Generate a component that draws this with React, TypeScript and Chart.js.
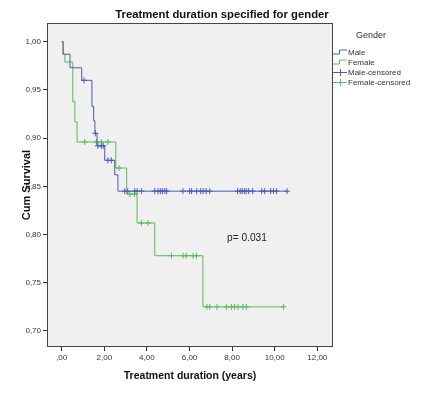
import React, { useEffect, useRef } from "react";
import { Chart, registerables } from "chart.js";

Chart.register(...registerables);

// Kaplan-Meier step data (time in years, cumulative survival after event)
const maleEventTimes = [0.06, 0.39, 0.94, 1.42, 1.50, 1.56, 1.66, 2.02, 2.49, 2.64];
const maleSurvival = [0.987, 0.973, 0.960, 0.933, 0.918, 0.905, 0.892, 0.877, 0.862, 0.845];
const maleCensored = [1.05, 1.58, 1.70, 1.86, 1.95, 2.17, 2.33, 2.96, 3.10, 3.43, 3.54, 3.74, 4.37, 4.52, 4.63, 4.73, 4.84, 4.93, 5.69, 6.01, 6.10, 6.34, 6.53, 6.64, 6.78, 6.95, 8.26, 8.38, 8.47, 8.57, 8.66, 8.78, 8.97, 9.39, 9.53, 9.81, 9.95, 10.09, 10.58];

const femaleEventTimes = [0.08, 0.15, 0.52, 0.62, 0.72, 2.54, 3.05, 3.54, 4.37, 6.63];
const femaleSurvival = [0.987, 0.979, 0.938, 0.917, 0.896, 0.869, 0.842, 0.812, 0.778, 0.725];
const femaleCensored = [1.08, 1.63, 1.86, 2.17, 2.69, 3.20, 3.42, 3.74, 4.05, 5.15, 5.70, 5.85, 6.17, 6.33, 6.82, 6.95, 7.29, 7.73, 7.97, 8.12, 8.28, 8.51, 8.67, 10.42];

const xTicks = [0, 2, 4, 6, 8, 10, 12];
const yTicks = [0.7, 0.75, 0.8, 0.85, 0.9, 0.95, 1.0];

const titleText = "Treatment duration specified for gender";
const xTitle = "Treatment duration (years)";
const yTitle = "Cum Survival";
const legendTitle = "Gender";
const legendLabels = ["Male", "Female", "Male-censored", "Female-censored"];
const pText = "p= 0.031";

const BLUE = "#4b5bb3";
const GREEN = "#5cba5c";
const FONT = '"Liberation Sans", Arial, sans-serif';

function levelAt(times: number[], surv: number[], t: number): number {
  let s = 1;
  for (let i = 0; i < times.length; i++) if (times[i] <= t) s = surv[i];
  return s;
}

function stepPoints(times: number[], surv: number[], end: number) {
  const pts = [{ x: 0, y: 1 }];
  times.forEach((t, i) => pts.push({ x: t, y: surv[i] }));
  pts.push({ x: end, y: surv[surv.length - 1] });
  return pts;
}

const fmt = (v: number) => {
  const s = v.toFixed(2).replace(".", ",");
  return s.startsWith("0,") && v === 0 ? ",00" : s;
};

const decorPlugin = {
  id: "decor",
  beforeDraw(chart: any) {
    const { ctx, chartArea: a } = chart;
    ctx.save();
    ctx.fillStyle = "#ffffff";
    ctx.fillRect(0, 0, chart.width, chart.height);
    ctx.fillStyle = "#f0f0f0";
    ctx.fillRect(a.left, a.top, a.right - a.left, a.bottom - a.top);
    ctx.restore();
  },
  afterDraw(chart: any) {
    const { ctx, chartArea: a } = chart;
    ctx.save();
    ctx.strokeStyle = "#444";
    ctx.lineWidth = 1;
    ctx.strokeRect(Math.round(a.left) - 0.5, Math.round(a.top) - 0.5, Math.round(a.right - a.left) + 1, Math.round(a.bottom - a.top) + 1);

    ctx.fillStyle = "#111";
    ctx.textBaseline = "middle";
    // chart title
    ctx.font = `bold 11.3px ${FONT}`;
    ctx.textAlign = "center";
    ctx.fillText(titleText, 222, 15);
    // x title
    ctx.font = `bold 10.5px ${FONT}`;
    ctx.fillText(xTitle, (a.left + a.right) / 2, 376);
    // y title
    ctx.save();
    ctx.translate(27, (a.top + a.bottom) / 2);
    ctx.rotate(-Math.PI / 2);
    ctx.font = `bold 11px ${FONT}`;
    ctx.fillText(yTitle, 0, 0);
    ctx.restore();

    // p-value
    ctx.fillStyle = "#222";
    ctx.font = `10.2px ${FONT}`;
    ctx.textAlign = "left";
    ctx.fillText(pText, 227, 238);

    // legend
    ctx.fillStyle = "#333";
    ctx.font = `9px ${FONT}`;
    ctx.textAlign = "center";
    ctx.fillText(legendTitle, 371, 36);
    ctx.textAlign = "left";
    ctx.font = `8px ${FONT}`;
    const ys = [52.5, 62.5, 72.5, 82.5];
    const cols = [BLUE, GREEN, BLUE, GREEN];
    legendLabels.forEach((lab, i) => {
      const y = ys[i];
      ctx.strokeStyle = cols[i];
      ctx.lineWidth = 1;
      ctx.beginPath();
      if (i < 2) {
        ctx.moveTo(333, y + 1.5);
        ctx.lineTo(339.5, y + 1.5);
        ctx.lineTo(339.5, y - 2.5);
        ctx.lineTo(347, y - 2.5);
      } else {
        ctx.moveTo(333, y);
        ctx.lineTo(347, y);
        ctx.moveTo(340.5, y - 3.5);
        ctx.lineTo(340.5, y + 3.5);
      }
      ctx.stroke();
      ctx.fillStyle = "#333";
      ctx.fillText(lab, 348, y);
    });
    ctx.restore();
  },
};

export default function App() {
  const ref = useRef<HTMLCanvasElement | null>(null);
  useEffect(() => {
    if (!ref.current) return;
    const maleEnd = maleCensored[maleCensored.length - 1];
    const femaleEnd = femaleCensored[femaleCensored.length - 1];
    const tickOpts = (cb: (v: number) => string) => ({
      color: "#333",
      font: { family: FONT, size: 8 },
      padding: 2,
      autoSkip: false,
      maxRotation: 0,
      callback: (v: any) => cb(Number(v)),
    });
    const gridOpts = {
      drawOnChartArea: false,
      drawTicks: true,
      tickLength: 5,
      tickColor: "#333",
      color: "#333",
    };
    const chart = new Chart(ref.current, {
      type: "line",
      data: {
        datasets: [
          {
            label: "Male",
            data: stepPoints(maleEventTimes, maleSurvival, maleEnd),
            borderColor: BLUE,
            borderWidth: 1,
            stepped: "before",
            pointRadius: 0,
            fill: false,
          },
          {
            label: "Female",
            data: stepPoints(femaleEventTimes, femaleSurvival, femaleEnd),
            borderColor: GREEN,
            borderWidth: 1,
            stepped: "before",
            pointRadius: 0,
            fill: false,
          },
          {
            label: "Male-censored",
            data: maleCensored.map((t) => ({ x: t, y: levelAt(maleEventTimes, maleSurvival, t) })),
            showLine: false,
            pointStyle: "cross",
            pointRadius: 3,
            borderColor: BLUE,
            borderWidth: 1,
          },
          {
            label: "Female-censored",
            data: femaleCensored.map((t) => ({ x: t, y: levelAt(femaleEventTimes, femaleSurvival, t) })),
            showLine: false,
            pointStyle: "cross",
            pointRadius: 3,
            borderColor: GREEN,
            borderWidth: 1,
          },
        ],
      },
      options: {
        responsive: false,
        animation: false,
        devicePixelRatio: 1,
        layout: { padding: { left: 0, right: 111, top: 24, bottom: 0 } },
        plugins: { legend: { display: false }, title: { display: false }, tooltip: { enabled: false } },
        scales: {
          x: {
            type: "linear",
            min: -0.643,
            max: 12.69,
            afterBuildTicks: (axis: any) => {
              axis.ticks = xTicks.map((v) => ({ value: v }));
            },
            afterFit: (s: any) => {
              s.height = 47;
            },
            ticks: tickOpts(fmt),
            grid: gridOpts,
            border: { display: false },
          },
          y: {
            type: "linear",
            min: 0.6844,
            max: 1.0184,
            afterBuildTicks: (axis: any) => {
              axis.ticks = yTicks.map((v) => ({ value: v }));
            },
            afterFit: (s: any) => {
              s.width = 48;
            },
            ticks: tickOpts(fmt),
            grid: gridOpts,
            border: { display: false },
          },
        },
      } as any,
      plugins: [decorPlugin],
    });
    return () => chart.destroy();
  }, []);
  return (
    <div style={{ position: "fixed", left: 0, top: 0, width: 443, height: 393, background: "#fff" }}>
      <canvas ref={ref} width={443} height={393} />
    </div>
  );
}
